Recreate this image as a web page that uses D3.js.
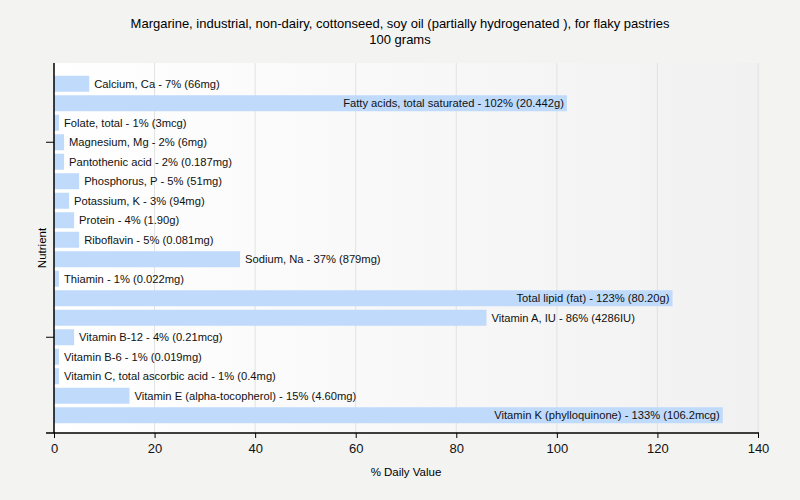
<!DOCTYPE html>
<html>
<head>
<meta charset="utf-8">
<script src="https://cdn.jsdelivr.net/npm/d3@7"></script>
<style>
  body { margin: 0; background: #f3f3f2; }
  text { font-family: "Liberation Sans", Arial, sans-serif; }
</style>
</head>
<body>
<svg id="chart" width="800" height="500"></svg>
<script>
const nutrients = ["Calcium, Ca", "Fatty acids, total saturated", "Folate, total", "Magnesium, Mg",
  "Pantothenic acid", "Phosphorus, P", "Potassium, K", "Protein", "Riboflavin", "Sodium, Na",
  "Thiamin", "Total lipid (fat)", "Vitamin A, IU", "Vitamin B-12", "Vitamin B-6",
  "Vitamin C, total ascorbic acid", "Vitamin E (alpha-tocopherol)", "Vitamin K (phylloquinone)"]
const percents = [7, 102, 1, 2, 2, 5, 3, 4, 5, 37, 1, 123, 86, 4, 1, 1, 15, 133]
const amounts = ["66mg", "20.442g", "3mcg", "6mg", "0.187mg", "51mg", "94mg", "1.90g", "0.081mg",
  "879mg", "0.022mg", "80.20g", "4286IU", "0.21mcg", "0.019mg", "0.4mg", "4.60mg", "106.2mcg"]
const xTicks = [0, 20, 40, 60, 80, 100, 120, 140]
const yTickRows = ["Magnesium, Mg", "Vitamin B-12"]

const L = 54, R = 758, T = 63, B = 433

const svg = d3.select("#chart")

const grad = svg.append("defs").append("linearGradient")
  .attr("id", "bg").attr("x1", "0").attr("x2", "1").attr("y1", "0").attr("y2", "0")
grad.append("stop").attr("offset", "0").attr("stop-color", "#ffffff")
grad.append("stop").attr("offset", "1").attr("stop-color", "#f1f1f1")

svg.append("rect").attr("x", L).attr("y", T).attr("width", R - L + 2).attr("height", B - T)
  .attr("fill", "url(#bg)")

const x = d3.scaleLinear().domain([0, 140]).range([L, R])
const y = d3.scaleBand().domain(nutrients).range([74, 425]).paddingInner(0.18).paddingOuter(0.09)

// grid
svg.selectAll(".grid").data(xTicks.slice(1)).enter().append("line")
  .attr("x1", d => x(d)).attr("x2", d => x(d)).attr("y1", T).attr("y2", B)
  .attr("stroke", "#e2e2e2")

svg.selectAll(".bar").data(nutrients).enter().append("rect")
  .attr("x", L)
  .attr("y", d => y(d))
  .attr("width", (d, i) => x(percents[i]) - L)
  .attr("height", y.bandwidth())
  .attr("fill", "#bfdafb")

svg.selectAll(".lbl").data(nutrients).enter().append("text")
  .attr("x", (d, i) => percents[i] > 100 ? x(percents[i]) - 3 : x(percents[i]) + 5)
  .attr("y", d => y(d) + y.bandwidth() / 2 + 4)
  .attr("text-anchor", (d, i) => percents[i] > 100 ? "end" : "start")
  .attr("font-size", "11.2px")
  .attr("fill", "#111")
  .text((d, i) => d + " - " + percents[i] + "% (" + amounts[i] + ")")

// axes
const xAxis = svg.append("g").attr("transform", "translate(0," + B + ")")
  .call(d3.axisBottom(x).tickValues(xTicks).tickSize(5).tickSizeOuter(0))
xAxis.select(".domain").remove()
xAxis.append("line").attr("x1", L - 8).attr("x2", R + 1).attr("stroke", "#000").attr("stroke-width", 1.5)
xAxis.selectAll(".tick line").attr("stroke", "#000")
xAxis.selectAll(".tick text").attr("font-size", "13px").attr("fill", "#111").attr("dy", "0.9em")

svg.append("line").attr("x1", L).attr("x2", L).attr("y1", T).attr("y2", B)
  .attr("stroke", "#000").attr("stroke-width", 1.5)
svg.selectAll(".ytick").data(yTickRows).enter().append("line")
  .attr("x1", L - 8).attr("x2", L)
  .attr("y1", d => y(d) + y.bandwidth() / 2).attr("y2", d => y(d) + y.bandwidth() / 2)
  .attr("stroke", "#000")

// titles
svg.append("text").attr("x", 400).attr("y", 28).attr("text-anchor", "middle").attr("font-size", "13px")
  .text("Margarine, industrial, non-dairy, cottonseed, soy oil (partially hydrogenated ), for flaky pastries")
svg.append("text").attr("x", 400).attr("y", 44).attr("text-anchor", "middle").attr("font-size", "13px")
  .text("100 grams")
svg.append("text").attr("x", 406).attr("y", 476).attr("text-anchor", "middle").attr("font-size", "11.5px")
  .text("% Daily Value")
svg.append("text").attr("transform", "translate(46,248) rotate(-90)").attr("text-anchor", "middle")
  .attr("font-size", "11.5px").text("Nutrient")
</script>
</body>
</html>
